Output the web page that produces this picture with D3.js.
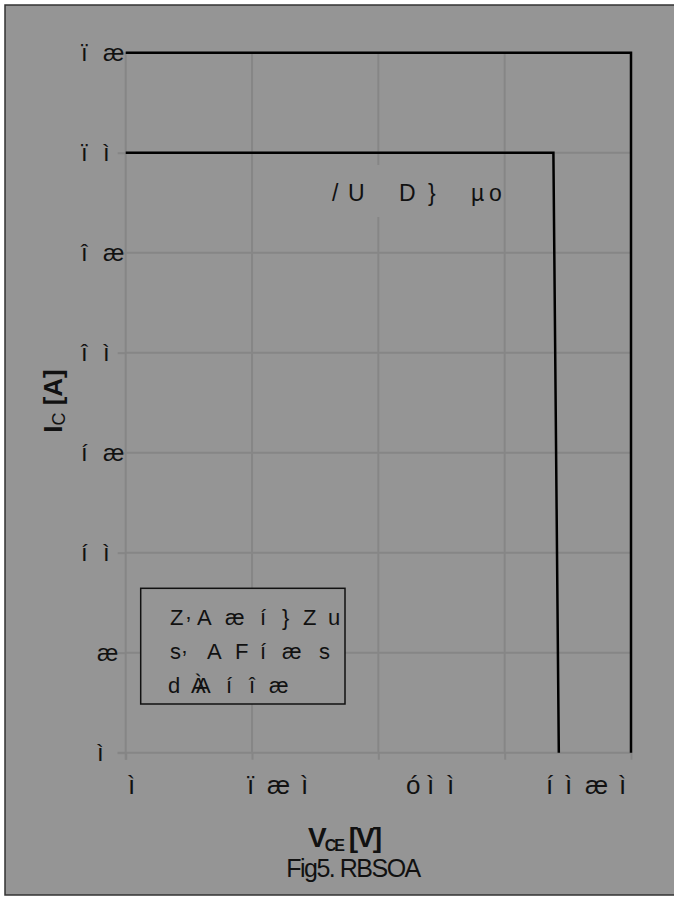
<!DOCTYPE html>
<html>
<head>
<meta charset="utf-8">
<script src="https://cdn.jsdelivr.net/npm/d3@7"></script>
<style>
	body { margin: 0; background: #fff; }
	svg { display: block; }
	text { font-family: "Liberation Sans", Arial, sans-serif; fill: #111; }
</style>
</head>
<body>
<svg id="rbsoa" width="674" height="897"></svg>
<script>
// Data
const outer_vce = [0, 1400, 1400];
const outer_ic = [35, 35, 0];
const inner_vce = [0, 1185, 1200];
const inner_ic = [30, 30, 0];

const x_ticks = [0, 350, 700, 1050, 1400];
const y_ticks = [35, 30, 25, 20, 15, 10, 5, 0];

// Tick labels as they appear (garbled glyphs of the source font)
const x_tick_labels = ["ì", "ïæì", "óìì", "íìæì"];
const y_tick_labels = ["ïæ", "ïì", "îæ", "îì", "íæ", "íì", "æ", "ì"];
const legend_lines = ["Z‚Aæí}Zu", "s‚AFíæs", "dÀAíîæ"];
const inner_note = "/UD}µo";

// Layout of the glyphs (where each character sits)
const x_label_char_x = [[128], [247, 267, 301], [406, 427, 447], [546, 565, 585, 619]];
const legend_char_x = [
	[170, 186, 197, 225, 260, 282, 303, 328],
	[170, 182, 207, 235, 260, 282, 319],
	[168, 191, 196, 226, 249, 269]
];
const note_char_x = [332, 348, 399, 428, 471, 489];

const BG = "#959595";
const GRID = "#868686";

function whenDocumentLoaded(action) {
	if (document.readyState === "loading") {
		document.addEventListener("DOMContentLoaded", action);
	} else {
		action();
	}
}

function drawChart(svg_id) {

	const svg = d3.select("#" + svg_id);

	// frame
	svg.append("rect")
		.attr("x", 5).attr("y", 5)
		.attr("width", 675).attr("height", 890)
		.attr("fill", BG)
		.attr("stroke", "#333")
		.attr("stroke-width", 1.5);

	const x = d3.scaleLinear().domain([0, 1400]).range([125.7, 631]);
	const y = d3.scaleLinear().domain([0, 35]).range([752.7, 52.7]);

	// grid
	const grid = svg.append("g")
		.attr("stroke", GRID)
		.attr("stroke-width", 2);

	grid.selectAll(".vgrid")
		.data(x_ticks.slice(1))
		.enter()
		.append("line")
			.attr("x1", d => x(d)).attr("x2", d => x(d))
			.attr("y1", y(35)).attr("y2", y(0));

	grid.selectAll(".hgrid")
		.data(y_ticks.filter(d => d > 0))
		.enter()
		.append("line")
			.attr("x1", x(0)).attr("x2", x(1400))
			.attr("y1", d => y(d)).attr("y2", d => y(d));

	// axes: lines and ticks only, labels are drawn below
	svg.append("g")
		.attr("transform", "translate(0," + y(0) + ")")
		.call(d3.axisBottom(x).tickValues(x_ticks).tickSize(7).tickSizeOuter(0).tickFormat(""))
		.call(g => g.select(".domain").attr("stroke", GRID).attr("stroke-width", 2)
			.attr("d", "M" + (x(0) - 8) + ",0H" + x(1400)))
		.call(g => g.selectAll(".tick line").attr("stroke", GRID).attr("stroke-width", 2));

	svg.append("g")
		.attr("transform", "translate(" + x(0) + ",0)")
		.call(d3.axisLeft(y).tickValues(y_ticks).tickSize(8).tickSizeOuter(0).tickFormat(""))
		.call(g => g.select(".domain").attr("stroke", GRID).attr("stroke-width", 2)
			.attr("d", "M0," + y(35) + "V" + (y(0) + 7)))
		.call(g => g.selectAll(".tick line").attr("stroke", GRID).attr("stroke-width", 2));

	// box behind the note, hides the grid line
	svg.append("rect")
		.attr("x", 325).attr("y", 165)
		.attr("width", 175).attr("height", 52)
		.attr("fill", BG);

	// curves
	const line = d3.line()
		.x(d => x(d[0]))
		.y(d => y(d[1]));

	const curves = [
		d3.zip(outer_vce, outer_ic),
		d3.zip(inner_vce, inner_ic)
	];

	svg.append("g")
		.selectAll("path")
		.data(curves)
		.enter()
		.append("path")
			.attr("d", line)
			.attr("fill", "none")
			.attr("stroke", "#000")
			.attr("stroke-width", 2.5);

	// x tick labels
	svg.append("g")
		.selectAll("text")
		.data(x_tick_labels)
		.enter()
		.append("text")
			.attr("x", (d, i) => x_label_char_x[i].join(" "))
			.attr("y", 794)
			.attr("font-size", 26)
			.text(d => d);

	// y tick labels
	svg.append("g")
		.selectAll("text")
		.data(y_tick_labels)
		.enter()
		.append("text")
			.attr("x", d => d.length == 2 ? "81 103" : "97")
			.attr("y", (d, i) => y(y_ticks[i]) + 8)
			.attr("font-size", 24)
			.text(d => d);

	// note
	svg.append("text")
		.attr("x", note_char_x.join(" "))
		.attr("y", 201)
		.attr("font-size", 23)
		.text(inner_note);

	// legend box
	svg.append("rect")
		.attr("x", 140.7).attr("y", 588.3)
		.attr("width", 204.3).attr("height", 115.7)
		.attr("fill", BG)
		.attr("stroke", "#111")
		.attr("stroke-width", 1.5);

	svg.append("g")
		.selectAll("text")
		.data(legend_lines)
		.enter()
		.append("text")
			.attr("x", (d, i) => legend_char_x[i].join(" "))
			.attr("y", (d, i) => {
				const base = 625 + i * 34;
				// the small tick after the first glyph sits higher
				return Array.from(d, (c, j) => c == "‚" ? base - 6 : base).join(" ");
			})
			.attr("font-size", 22)
			.text(d => d);

	// axis titles
	const ytitle = svg.append("text")
		.attr("transform", "translate(62,401) rotate(-90)")
		.attr("text-anchor", "middle")
		.attr("font-size", 26)
		.attr("font-weight", "bold");
	ytitle.append("tspan").text("I");
	ytitle.append("tspan").attr("font-size", 18).attr("font-weight", "normal").attr("dy", 3).text("C");
	ytitle.append("tspan").attr("dy", -3).text(" [A]");

	const xtitle = svg.append("text")
		.attr("x", 344).attr("y", 847)
		.attr("text-anchor", "middle")
		.attr("font-size", 28)
		.attr("font-weight", "bold")
		.attr("letter-spacing", -2);
	xtitle.append("tspan").text("V");
	xtitle.append("tspan").attr("font-size", 16).attr("dy", 4).text("CE");
	xtitle.append("tspan").attr("dy", -4).text(" [V]");

	svg.append("text")
		.attr("x", 353).attr("y", 877)
		.attr("text-anchor", "middle")
		.attr("font-size", 25)
		.attr("letter-spacing", -1.5)
		.text("Fig5. RBSOA");
}

whenDocumentLoaded(() => {
	drawChart("rbsoa");
});
</script>
</body>
</html>
